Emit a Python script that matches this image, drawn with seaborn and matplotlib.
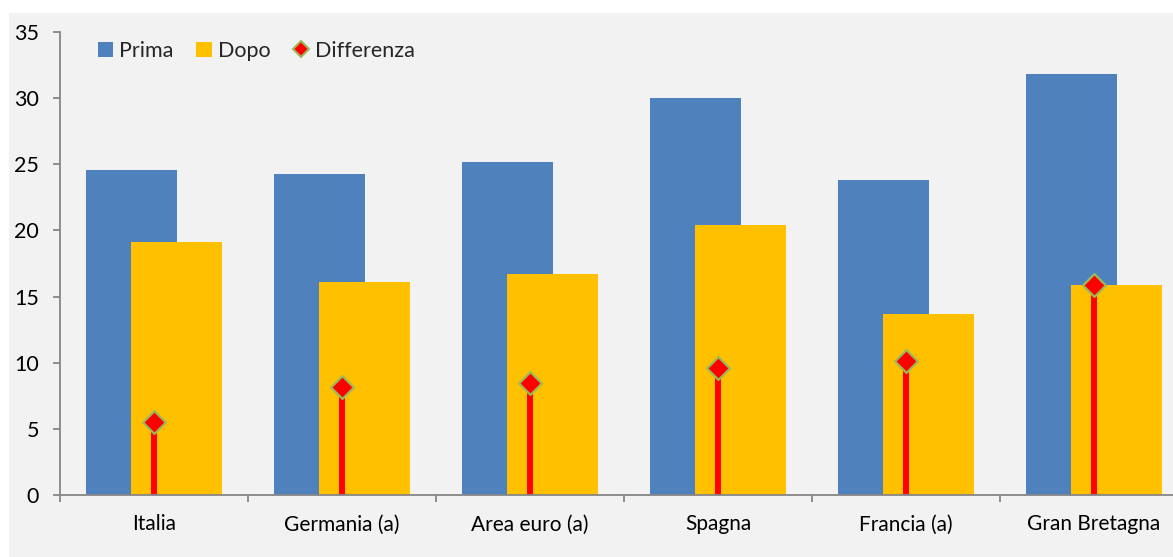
import matplotlib
matplotlib.use("Agg")
import matplotlib.pyplot as plt
from matplotlib.patches import Patch, Rectangle
from matplotlib.lines import Line2D
import numpy as np
import pandas as pd
import seaborn as sns

countries = ['Italia', 'Germania (a)', 'Area euro (a)', 'Spagna', 'Francia (a)', 'Gran Bretagna']
prima = [24.6, 24.3, 25.2, 30.0, 23.8, 31.8]
dopo = [19.1, 16.1, 16.7, 20.4, 13.7, 15.9]
differenza = [5.5, 8.2, 8.5, 9.6, 10.1, 15.9]

BLUE = '#4f81bd'
YELLOW = '#ffc000'
RED = '#ff0000'
GREEN = '#9bbb59'
BG = '#f2f2f2'
AXIS = '#868686'

sns.set_theme(style='white')
plt.rcParams['font.family'] = ['Lato', 'DejaVu Sans']

W, H = 1173, 557
fig = plt.figure(figsize=(W / 100, H / 100), dpi=100)
fig.patch.set_facecolor('white')
fig.patches.append(Rectangle((9 / W, 0), 1, (H - 13) / H, transform=fig.transFigure,
                             facecolor=BG, edgecolor='none', zorder=-10))

ax = fig.add_axes([60 / W, (H - 495) / H, 1128 / W, 463 / H])
ax.set_facecolor('none')

pos = np.arange(len(countries))
df = pd.DataFrame({'pos': pos, 'Prima': prima, 'Dopo': dopo, 'Differenza': differenza})
df['pos_prima'] = df['pos'] - 0.12
df['pos_dopo'] = df['pos'] + 0.12

sns.barplot(data=df, x='pos_prima', y='Prima', native_scale=True, width=0.48,
            color=BLUE, saturation=1, linewidth=0, edgecolor='none', ax=ax, zorder=2)
sns.barplot(data=df, x='pos_dopo', y='Dopo', native_scale=True, width=0.48,
            color=YELLOW, saturation=1, linewidth=0, edgecolor='none', ax=ax, zorder=3)

ax.vlines(df['pos'], 0, df['Differenza'], color=RED, linewidth=4.3, zorder=4)
sns.scatterplot(data=df, x='pos', y='Differenza', marker='D', s=135, color=RED,
                edgecolor=GREEN, linewidth=1.6, ax=ax, zorder=5, legend=False)

ax.set_xlim(-0.5, 5.5)
ax.set_ylim(0, 35)
ax.set_yticks(range(0, 36, 5))
ax.set_xticks(np.arange(-0.5, 5.6, 1))
ax.set_xticklabels([])
ax.set_xticks(pos, minor=True)
ax.set_xticklabels(countries, minor=True)
ax.set_xlabel('')
ax.set_ylabel('')

for side in ['top', 'right']:
    ax.spines[side].set_visible(False)
for side in ['left', 'bottom']:
    ax.spines[side].set_color(AXIS)
    ax.spines[side].set_linewidth(1.3)
    ax.spines[side].set_zorder(6)

ax.tick_params(axis='y', which='major', direction='out', length=5, width=1.3, color=AXIS,
               left=True, pad=10, labelsize=15.5, labelcolor='black')
ax.tick_params(axis='x', which='major', direction='out', length=5, width=1.3, color=AXIS,
               bottom=True)
ax.tick_params(axis='x', which='minor', length=0, pad=14, labelsize=15, labelcolor='black')

handles = [
    Patch(facecolor=BLUE, edgecolor='none', label='Prima'),
    Patch(facecolor=YELLOW, edgecolor='none', label='Dopo'),
    Line2D([], [], marker='D', linestyle='none', markersize=8, markerfacecolor=RED,
           markeredgecolor=GREEN, markeredgewidth=1.5, label='Differenza'),
]
ax.legend(handles=handles, loc='upper left', bbox_to_anchor=(0.026, 1.0), ncol=3,
          frameon=False, fontsize=15.5, handlelength=0.7, handleheight=0.7,
          handletextpad=0.3, columnspacing=1.05, borderaxespad=0)

fig.savefig('out.png', dpi=100, facecolor=fig.get_facecolor())
